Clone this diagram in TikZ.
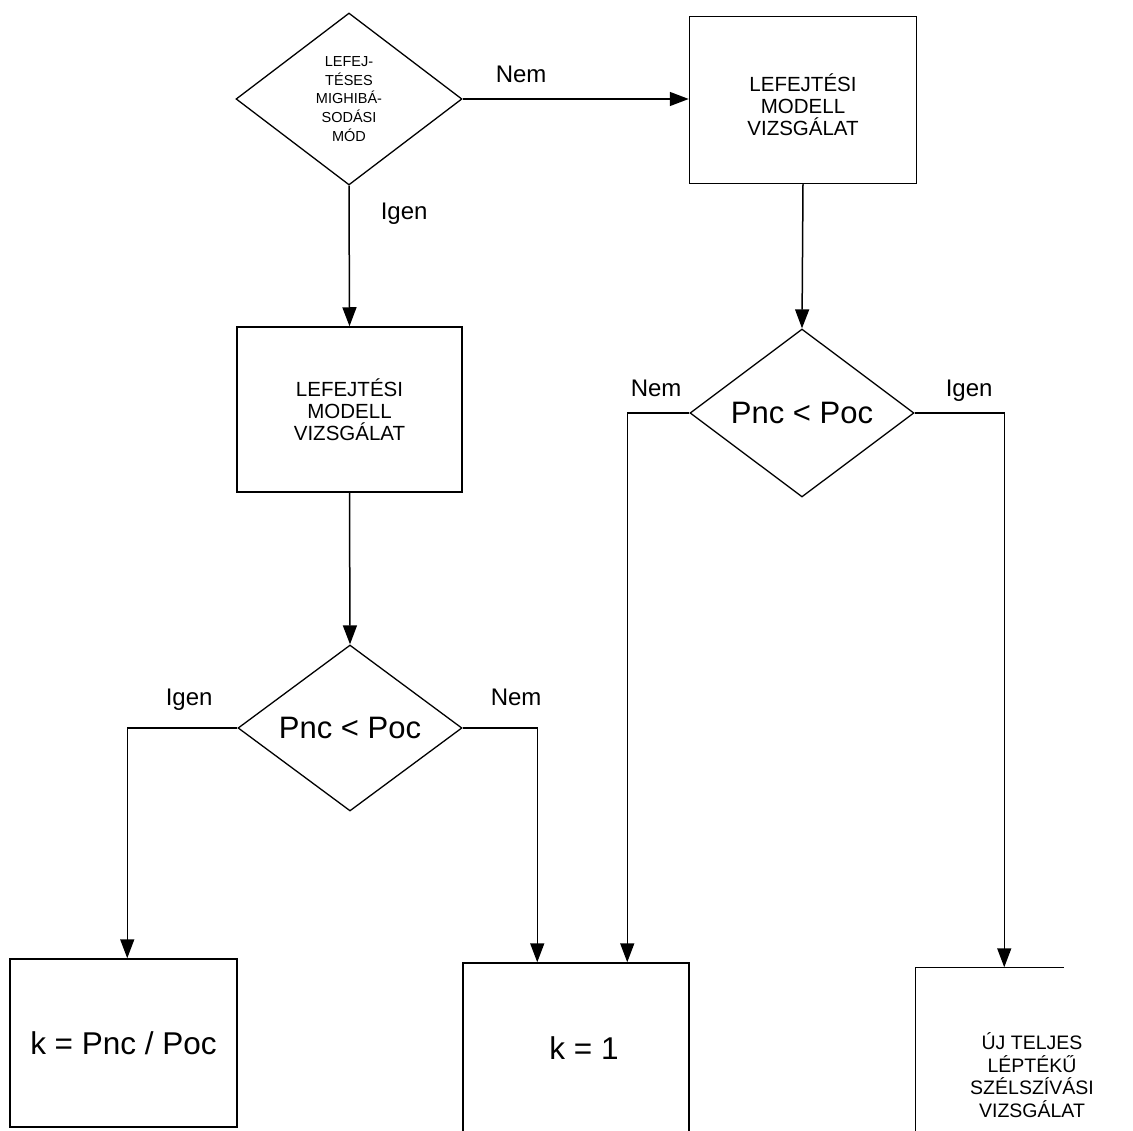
\documentclass[tikz,border=0pt]{standalone}
\usepackage{fontspec}
\setmainfont{Liberation Sans}
\usetikzlibrary{shapes.geometric,arrows.meta,calc}
\begin{document}
\begin{tikzpicture}[x=1pt,y=-1pt,
  line width=1.5pt,
  box/.style={draw,rectangle,minimum width=227pt,minimum height=168pt,inner sep=0pt,align=center},
  dec/.style={draw,diamond,line width=1.3pt,minimum width=226pt,minimum height=168pt,inner sep=0pt,align=center},
  arr/.style={-{Triangle[length=19pt,width=14pt]}},
  lbl/.style={anchor=base west,inner sep=0pt,font=\fontsize{24}{28}\selectfont},
  boxtxt/.style={font=\fontsize{20.5}{22}\selectfont},
  big/.style={font=\fontsize{31}{36}\selectfont},
]
\useasboundingbox (0,0) rectangle (1133,1131);

% nodes
\node[dec, minimum height=172pt, font=\fontsize{14.5}{18.75}\selectfont] (d1) at (349,99) {LEFEJ-\\TÉSES\\MIGHIBÁ-\\SODÁSI\\MÓD};
\node[box, boxtxt, minimum height=167pt, text height=76pt, text depth=4pt] (b1) at (803,100) {LEFEJTÉSI\\MODELL\\VIZSGÁLAT};
\node[box, boxtxt, minimum width=225pt, minimum height=165pt] (b2) at (349.5,409.5) {LEFEJTÉSI\\MODELL\\VIZSGÁLAT};
\node[dec, big, minimum width=224pt] (d2) at (802,413) {Pnc < Poc};
\node[dec, big, minimum width=224pt, minimum height=166pt] (d3) at (350,728) {Pnc < Poc};
\node[box, font=\fontsize{31.5}{36}\selectfont] (bp) at (123.5,1043) {k = Pnc / Poc};
\node[box, font=\fontsize{31.5}{36}\selectfont, minimum width=226pt, minimum height=170pt] (bk) at (576,1048) {\hspace*{16pt}k = 1};
\node[rectangle, minimum width=227pt, minimum height=170pt, inner sep=0pt] (bu) at (1029.5,1053) {};
\node[align=center, inner sep=0pt, font=\fontsize{19.5}{22.7}\selectfont] (tu) at (1032,1075) {ÚJ TELJES\\LÉPTÉKŰ\\SZÉLSZÍVÁSI\\VIZSGÁLAT};

% arrow end points
\coordinate (e1) at ($(bp.north west)+(118,0)$);
\coordinate (e2) at ($(bk.north west)+(75,0)$);
\coordinate (e3) at ($(bk.north west)+(165,0)$);
\coordinate (e4) at ($(bu.north west)+(89,0)$);

% connectors
\draw[arr] (d1.east) -- (d1.east -| b1.west);
\draw[arr] (d1.south) -- (b2.north);
\draw[arr] (b2.south) -- (d3.north);
\draw[arr] (b1.south) -- (d2.north);
\draw[arr] (d3.west) -| (e1);
\draw[arr] (d3.east) -| (e2);
\draw[arr] (d2.west) -| (e3);
\draw[arr] (d2.east) -| (e4);

% partly visible box at lower right
\draw (bu.south west) -- (bu.north west) -- ++(149,0);

% labels
\node[lbl] (l1) at (495,83) {Nem};
\node[lbl] (l2) at (380,220) {Igen};
\node[lbl] (l3) at (165,705) {Igen};
\node[lbl] (l4) at (490,705) {Nem};
\node[lbl] (l5) at (630,397) {Nem};
\node[lbl] (l6) at (945,397) {Igen};
\end{tikzpicture}
\end{document}
